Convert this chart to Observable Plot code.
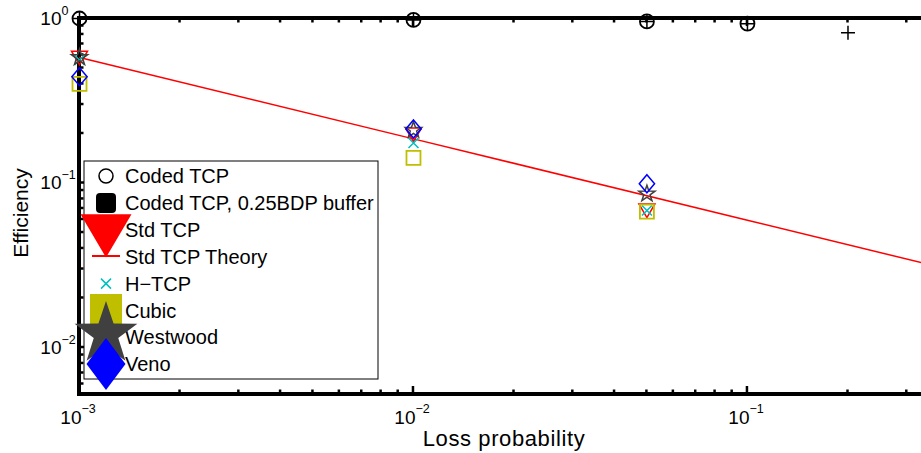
<!DOCTYPE html>
<html><head><meta charset="utf-8">
<script src="https://cdn.jsdelivr.net/npm/d3@7"></script>
<script src="https://cdn.jsdelivr.net/npm/@observablehq/plot@0.6"></script>
<style>
html,body{margin:0;padding:0;background:#fff;overflow:hidden}
svg{display:block}
</style>
</head><body><div id="chart"></div>
<script>
// ---- data ----
const lossCoded = [0.001, 0.01, 0.05, 0.1];
const effCoded = [1.0, 0.98, 0.96, 0.93];
const lossBuf = [0.001, 0.01, 0.05, 0.1, 0.2];
const effBuf = [1.0, 0.98, 0.96, 0.93, 0.82];
const lossTcp = [0.001, 0.01, 0.05];
const effStd = [0.585, 0.20, 0.069];
const effHtcp = [0.56, 0.175, 0.068];
const effCubic = [0.40, 0.142, 0.067];
const effWestwood = [0.58, 0.21, 0.086];
const effVeno = [0.443, 0.213, 0.099];
const lossTheory = [0.001, 0.01, 0.1, 1];
const effTheory = [0.58, 0.1855, 0.0594, 0.019];
const xTickValues = [0.001, 0.01, 0.1];
const xTickExps = ["\u22123", "\u22122", "\u22121"];
const yTickValues = [1, 0.1, 0.01];
const yTickExps = ["0", "\u22121", "\u22122"];
const legendLabels = ["Coded TCP", "Coded TCP, 0.25BDP buffer", "Std TCP", "Std TCP Theory", "H\u2212TCP", "Cubic", "Westwood", "Veno"];

const C = {red: "#ff0000", cyan: "#00bfbf", olive: "#bfbf00", grey: "#404040", blue: "#0000ff", black: "#000000"};
const FONT = "'Liberation Sans', Arial, Helvetica, sans-serif";

const zip = (xs, ys) => xs.map((x, i) => ({x, y: ys[i]}));

// custom marker shapes (MATLAB-like)
const sym = f => ({draw(c, size) { f(c, Math.sqrt(size / Math.PI)); }});
const triDown = sym((c, r) => { c.moveTo(-r, -0.7 * r); c.lineTo(r, -0.7 * r); c.lineTo(0, r); c.closePath(); });
const star = sym((c, r) => {
  for (let i = 0; i < 10; i++) {
    const rr = i % 2 ? r * 0.39 : r, a = -Math.PI / 2 + i * Math.PI / 5;
    const px = rr * Math.cos(a), py = rr * Math.sin(a);
    i ? c.lineTo(px, py) : c.moveTo(px, py);
  }
  c.closePath();
});
const diamond = sym((c, r) => { c.moveTo(0, -r); c.lineTo(0.85 * r, 0); c.lineTo(0, r); c.lineTo(-0.85 * r, 0); c.closePath(); });
const square = sym((c, r) => { c.moveTo(-r, -r); c.lineTo(r, -r); c.lineTo(r, r); c.lineTo(-r, r); c.closePath(); });
const plus = sym((c, r) => { c.moveTo(-r, 0); c.lineTo(r, 0); c.moveTo(0, -r); c.lineTo(0, r); });
const times = sym((c, r) => { c.moveTo(-r, -r); c.lineTo(r, r); c.moveTo(-r, r); c.lineTo(r, -r); });

const dotOpts = (symbol, stroke, r, sw = 1.5) => ({x: "x", y: "y", symbol, r, stroke, fill: "none", strokeWidth: sw});

const chart = Plot.plot({
  width: 921, height: 453,
  marginLeft: 79, marginRight: 0, marginTop: 18, marginBottom: 59,
  x: {type: "log", domain: [0.001, 0.332], axis: null},
  y: {type: "log", domain: [0.00518, 1], axis: null},
  style: {fontFamily: FONT, background: "white", overflow: "visible", color: "black"},
  marks: [
    Plot.line(zip(lossTheory, effTheory), {x: "x", y: "y", stroke: C.red, strokeWidth: 1.5, clip: true}),
    Plot.dot(zip(lossCoded, effCoded), {x: "x", y: "y", symbol: "circle", r: 7, stroke: C.black, fill: "none", strokeWidth: 1.8}),
    Plot.dot(zip(lossBuf, effBuf), dotOpts(plus, C.black, 7, 1.5)),
    Plot.dot(zip(lossTcp, effStd), dotOpts(triDown, C.red, 8)),
    Plot.dot(zip(lossTcp, effHtcp), dotOpts(times, C.cyan, 5)),
    Plot.dot(zip(lossTcp, effCubic), dotOpts(square, C.olive, 7, 1.8)),
    Plot.dot(zip(lossTcp, effWestwood), dotOpts(star, C.grey, 8.5)),
    Plot.dot(zip(lossTcp, effVeno), dotOpts(diamond, C.blue, 9)),
    // x tick labels
    Plot.text(xTickValues, {x: d => d, frameAnchor: "bottom", text: () => "10", textAnchor: "end", lineAnchor: "bottom", dx: 2, dy: 29, fontSize: 19}),
    Plot.text(xTickValues, {x: d => d, frameAnchor: "bottom", text: (d, i) => xTickExps[i], textAnchor: "start", lineAnchor: "bottom", dx: 2, dy: 18, fontSize: 12.5}),
    // y tick labels
    Plot.text(yTickValues, {y: d => d, frameAnchor: "left", text: () => "10", textAnchor: "end", lineAnchor: "bottom", dx: -18, dy: 6, fontSize: 19}),
    Plot.text(yTickValues, {y: d => d, frameAnchor: "left", text: (d, i) => yTickExps[i], textAnchor: "start", lineAnchor: "bottom", dx: -18, dy: -4, fontSize: 12.5}),
  ]
});

const sx = chart.scale("x"), sy = chart.scale("y");
const [xl, xr] = sx.range, [yb, yt] = sy.range;
const svg = d3.select(chart);

// frame + inward ticks (behind markers)
const g = svg.insert("g", ":first-child").attr("stroke", "black").attr("fill", "none");
const minorX = [], minorY = [];
for (const dec of [0.001, 0.01, 0.1]) for (let k = 2; k <= 9; k++) { const v = k * dec; if (v <= sx.domain[1]) minorX.push(v); }
for (const dec of [0.001, 0.01, 0.1]) for (let k = 2; k <= 9; k++) { const v = k * dec; if (v >= sy.domain[0]) minorY.push(v); }
const tick = (x1, y1, x2, y2, w) => g.append("line").attr("x1", x1).attr("y1", y1).attr("x2", x2).attr("y2", y2).attr("stroke-width", w);
for (const v of xTickValues) { const x = sx.apply(v); tick(x, yb, x, yb - 8, 2.5); tick(x, yt, x, yt + 8, 2.5); }
for (const v of minorX) { const x = sx.apply(v); tick(x, yb, x, yb - 4.5, 2.5); tick(x, yt, x, yt + 4.5, 2.5); }
for (const v of yTickValues) { const y = sy.apply(v); tick(xl, y, xl + 8, y, 2.5); }
for (const v of minorY) { const y = sy.apply(v); tick(xl, y, xl + 4.5, y, 2.5); }
g.append("path").attr("d", `M${xr + 5},${yt}H${xl}V${yb}H${xr + 5}`).attr("stroke-width", 4).attr("stroke-linejoin", "miter");

// axis titles
svg.append("text").attr("x", 504).attr("y", 446).attr("text-anchor", "middle")
  .attr("font-family", FONT).attr("font-size", 22).attr("letter-spacing", "0.6px").text("Loss probability");
svg.append("text").attr("transform", `translate(28,${(yb + yt) / 2 + 7}) rotate(-90)`).attr("text-anchor", "middle")
  .attr("font-family", FONT).attr("font-size", 21).text("Efficiency");

// legend (MATLAB style)
const L = svg.append("g").attr("text-anchor", "start");
L.append("rect").attr("x", 84).attr("y", 161).attr("width", 294).attr("height", 218).attr("fill", "white").attr("stroke", "black").attr("stroke-width", 1);
const rowY = i => 176 + i * 26.9;
legendLabels.forEach((t, i) => {
  L.append("text").attr("x", 125).attr("y", rowY(i)).attr("dy", "0.35em").attr("text-anchor", "start")
    .attr("font-family", FONT).attr("font-size", 20).text(t);
});
const cx = 106;
const symPath = (type, r) => d3.symbol().type(type).size(Math.PI * r * r)();
L.append("circle").attr("cx", cx).attr("cy", rowY(0)).attr("r", 7).attr("fill", "none").attr("stroke", "black").attr("stroke-width", 1.5);
L.append("rect").attr("x", cx - 10).attr("y", rowY(1) - 10).attr("width", 20).attr("height", 20).attr("rx", 4).attr("fill", "black");
L.append("path").attr("d", symPath(triDown, 25.5)).attr("transform", `translate(${cx},232)`).attr("fill", C.red);
L.append("line").attr("x1", 92).attr("x2", 120).attr("y1", 256).attr("y2", 256).attr("stroke", C.red).attr("stroke-width", 2);
L.append("path").attr("d", symPath(times, 5)).attr("transform", `translate(${cx},${rowY(4)})`).attr("stroke", C.cyan).attr("stroke-width", 1.5).attr("fill", "none");
L.append("path").attr("d", symPath(square, 16)).attr("transform", `translate(${cx},310)`).attr("fill", C.olive);
L.append("path").attr("d", symPath(star, 33)).attr("transform", `translate(${cx},334)`).attr("fill", C.grey);
L.append("path").attr("d", "M0,-26L19.5,0L0,26L-19.5,0Z").attr("transform", `translate(${cx},364)`).attr("fill", C.blue);

document.getElementById("chart").appendChild(chart);
</script>
</body></html>
